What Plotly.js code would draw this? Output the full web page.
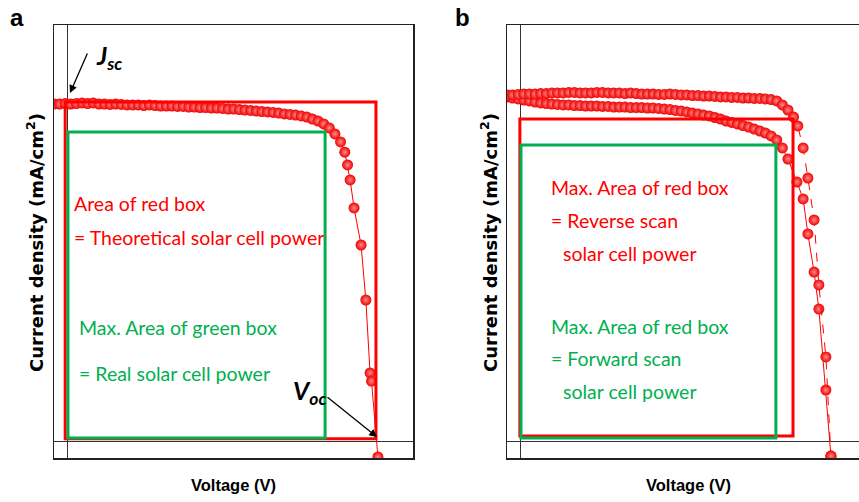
<!DOCTYPE html>
<html>
<head>
<meta charset="utf-8">
<script src="https://cdn.plot.ly/plotly-3.0.1.min.js"></script>
<style>html,body{margin:0;padding:0;background:#fff;}#chart{width:859px;height:502px;}</style>
</head>
<body>
<div id="chart"></div>
<script>
// ---- Panel a: J-V curve (V in volts, J in mA/cm^2) ----
const voltageA = [-0.05,-0.03,-0.01,0.01,0.03,0.05,0.07,0.09,0.11,0.13,0.15,0.17,0.19,0.21,0.23,0.25,0.27,0.29,0.31,0.33,0.35,0.37,0.39,0.41,0.43,0.45,0.47,0.49,0.51,0.53,0.55,0.57,0.59,0.61,0.63,0.65,0.67,0.69,0.71,0.73,0.75,0.77,0.79,0.81,0.83,0.85,0.87,0.89,0.91,0.93,0.95,0.97,
  0.985,0.995,1.004,1.018,1.043,1.06,1.075,1.08,1.103];
const currentA = [21.94,21.94,21.97,21.94,21.97,22.01,21.97,22.01,21.94,21.94,21.91,21.94,21.91,21.88,21.88,21.88,21.84,21.88,21.84,21.81,21.81,21.81,21.78,21.78,21.74,21.74,21.71,21.71,21.68,21.68,21.65,21.61,21.61,21.58,21.55,21.52,21.48,21.45,21.42,21.39,21.35,21.29,21.26,21.22,21.16,21.09,20.96,20.83,20.64,20.38,19.99,19.47,
  18.8,17.97,17.0,15.17,12.76,9.18,4.43,3.9,-1.04];

// ---- Panel b: reverse and forward scans ----
const voltageRev = [-0.05,-0.03,-0.01,0.01,0.03,0.05,0.07,0.09,0.11,0.13,0.15,0.17,0.19,0.21,0.23,0.25,0.27,0.29,0.31,0.33,0.35,0.37,0.39,0.41,0.43,0.45,0.47,0.49,0.51,0.53,0.55,0.57,0.59,0.61,0.63,0.65,0.67,0.69,0.71,0.73,0.75,0.77,0.79,0.81,0.83,0.85,0.87,0.89,0.91,0.93,0.95,0.97,
  0.985,1.004,1.021,1.043,1.06,1.085,1.103];
const currentRev = [22.53,22.53,22.56,22.59,22.59,22.59,22.62,22.62,22.66,22.66,22.66,22.69,22.69,22.66,22.66,22.66,22.69,22.69,22.66,22.66,22.66,22.62,22.66,22.62,22.59,22.59,22.59,22.56,22.56,22.59,22.56,22.53,22.53,22.49,22.49,22.46,22.46,22.43,22.40,22.40,22.37,22.37,22.33,22.33,22.30,22.30,22.27,22.23,22.14,21.88,21.55,21.09,
  20.51,19.08,17.12,14.39,10.16,5.47,-0.98];
const voltageFwd = [-0.05,-0.03,-0.01,0.01,0.03,0.05,0.07,0.09,0.11,0.13,0.15,0.17,0.19,0.21,0.23,0.25,0.27,0.29,0.31,0.33,0.35,0.37,0.39,0.41,0.43,0.45,0.47,0.49,0.51,0.53,0.55,0.57,0.59,0.61,0.63,0.65,0.67,0.69,0.71,0.73,0.75,0.77,0.79,0.81,0.83,0.85,0.87,0.89,0.91,0.93,0.95,
  0.982,1.004,1.021,1.043,1.06,1.085,1.103];
const currentFwd = [22.40,22.33,22.27,22.20,22.14,22.07,22.01,21.97,21.94,21.91,21.88,21.88,21.84,21.84,21.81,21.81,21.81,21.78,21.78,21.74,21.74,21.74,21.71,21.71,21.71,21.68,21.68,21.65,21.61,21.58,21.52,21.48,21.42,21.35,21.29,21.22,21.16,21.06,20.96,20.83,20.74,20.64,20.54,20.44,20.31,20.18,20.05,19.86,19.60,19.08,18.36,
  16.86,15.76,13.48,11.0,8.59,3.32,-0.98];

// Box corners (V, J)
const boxRedA   = {v0:-0.01, v1:1.096, j0:0.15, j1:22.07};
const boxGreenA = {v0:0.0,  v1:0.915, j0:0.2,  j1:20.12};
const boxRedB   = {v0:-0.004, v1:0.968, j0:0.33, j1:20.96};
const boxGreenB = {v0:0.0,  v1:0.907, j0:0.2,  j1:19.27};

// Text
const panelLabels = ['a','b'];
const yTitle = 'Current density (mA/cm<sup>2</sup>)';
const xTitle = 'Voltage (V)';
const textA = ['Area of red box','= Theoretical solar cell power','Max. Area of green box','= Real solar cell power'];
const textB = ['Max. Area of red box','= Reverse scan','solar cell power','Max. Area of red box','= Forward scan','solar cell power'];

const RED = '#ff0000', GREEN = '#00b050';
const W = 859, H = 502, MT = 25, MB = 44;
const PH = H - MT - MB;
function px(x){ return x / W; }
function py(y){ return (H - MB - y) / PH; }

const marker = {color: '#f00000', size: 11, line:{width:0}, gradient:{type:'radial', color:'#ff8a8a'}};
const traces = [
  {x: voltageA, y: currentA, xaxis:'x', yaxis:'y', mode:'lines+markers', line:{color:RED, width:1}, marker: marker},
  {x: voltageFwd, y: currentFwd, xaxis:'x2', yaxis:'y2', mode:'lines+markers', line:{color:RED, width:1}, marker: marker},
  {x: voltageRev, y: currentRev, xaxis:'x2', yaxis:'y2', mode:'lines+markers', line:{color:RED, width:1, dash:'dash'}, marker: marker}
];

const frameAx = {showgrid:false, showticklabels:false, ticks:'', zeroline:true, zerolinecolor:'#333', zerolinewidth:1,
  showline:true, linecolor:'#222', linewidth:1.5, fixedrange:true};
const yRange = [-1.107, 27.083];

function box(b, xr, yr, color){
  return {type:'rect', xref:xr, yref:yr, x0:b.v0, x1:b.v1, y0:b.j0, y1:b.j1, line:{color:color, width:3}, fillcolor:'rgba(0,0,0,0)', layer:'above'};
}

const bodyFont = (c)=>({family:'Lato, "Open Sans", sans-serif', size:19.5, color:c});
function txt(t, x, y, c){ return {text:t, x:px(x), y:py(y), xref:'paper', yref:'paper', showarrow:false, xanchor:'left', yanchor:'middle', font:bodyFont(c)}; }
function ctext(t, x, y, font, angle){ return {text:t, x:px(x), y:py(y), xref:'paper', yref:'paper', showarrow:false, xanchor:'center', yanchor:'middle', textangle:angle||0, font:font}; }

const xTitleFont = {family:'Arial, "Liberation Sans", sans-serif', size:16.5, color:'#000'};
const yTitleFont = {family:'"DejaVu Sans", Arial, sans-serif', size:18, color:'#000'};
const labelFont = {family:'Arial, "Liberation Sans", sans-serif', size:24, color:'#000'};

const annotations = [
  ctext('<b>'+panelLabels[0]+'</b>', 17, 17, labelFont),
  ctext('<b>'+panelLabels[1]+'</b>', 462, 17, labelFont),
  ctext('<b>'+yTitle+'</b>', 35, 243, yTitleFont, -90),
  ctext('<b>'+yTitle+'</b>', 489, 243, yTitleFont, -90),
  ctext('<b>'+xTitle+'</b>', 233, 485, xTitleFont),
  ctext('<b>'+xTitle+'</b>', 688, 485, xTitleFont),
  txt(textA[0], 72, 203, RED), txt(textA[1], 72, 237, RED),
  txt(textA[2], 77, 327, GREEN), txt(textA[3], 77, 373, GREEN),
  txt(textB[0], 549, 187, RED), txt(textB[1], 549, 220, RED), txt(textB[2], 561, 253, RED),
  txt(textB[3], 549, 326, GREEN), txt(textB[4], 549, 358, GREEN), txt(textB[5], 561, 391, GREEN),
  {text:'<b><i>J<sub>sc</sub></i></b>', x:px(94), y:py(57), xref:'paper', yref:'paper', showarrow:false, xanchor:'left', yanchor:'middle', font:{family:'Lato, sans-serif', size:25, color:'#000'}},
  {text:'<b><i>V<sub>oc</sub></i></b>', x:px(291), y:py(392), xref:'paper', yref:'paper', showarrow:false, xanchor:'left', yanchor:'middle', font:{family:'Lato, sans-serif', size:25, color:'#000'}},
  {text:'', x:px(70), y:py(93), xref:'paper', yref:'paper', showarrow:true, ax:18, ay:-41, arrowhead:2, arrowsize:1.2, arrowwidth:1.3, arrowcolor:'#000'},
  {text:'', x:px(377), y:py(437), xref:'paper', yref:'paper', showarrow:true, ax:-51, ay:-41, arrowhead:2, arrowsize:1.2, arrowwidth:1.3, arrowcolor:'#000'}
];

const layout = {
  width: W, height: H,
  margin: {l:0, r:0, t:MT, b:MB, pad:0},
  paper_bgcolor:'#fff', plot_bgcolor:'#fff',
  showlegend:false,
  font:{family:'Arial, "Liberation Sans", sans-serif'},
  xaxis: Object.assign({}, frameAx, {domain:[54/W, 413/W], range:[-0.0498, 1.2278], mirror:true, anchor:'y'}),
  yaxis: Object.assign({}, frameAx, {domain:[0,1], range:yRange, mirror:true, anchor:'x'}),
  xaxis2: Object.assign({}, frameAx, {domain:[507/W, 1], range:[-0.0498, 1.2028], mirror:true, anchor:'y2'}),
  yaxis2: Object.assign({}, frameAx, {domain:[0,1], range:yRange, mirror:false, anchor:'x2'}),
  shapes: [
    box(boxRedA,'x','y',RED), box(boxGreenA,'x','y',GREEN),
    box(boxRedB,'x2','y2',RED), box(boxGreenB,'x2','y2',GREEN)
  ],
  annotations: annotations
};

Plotly.newPlot('chart', traces, layout, {displayModeBar:false, staticPlot:true});
</script>
</body>
</html>
